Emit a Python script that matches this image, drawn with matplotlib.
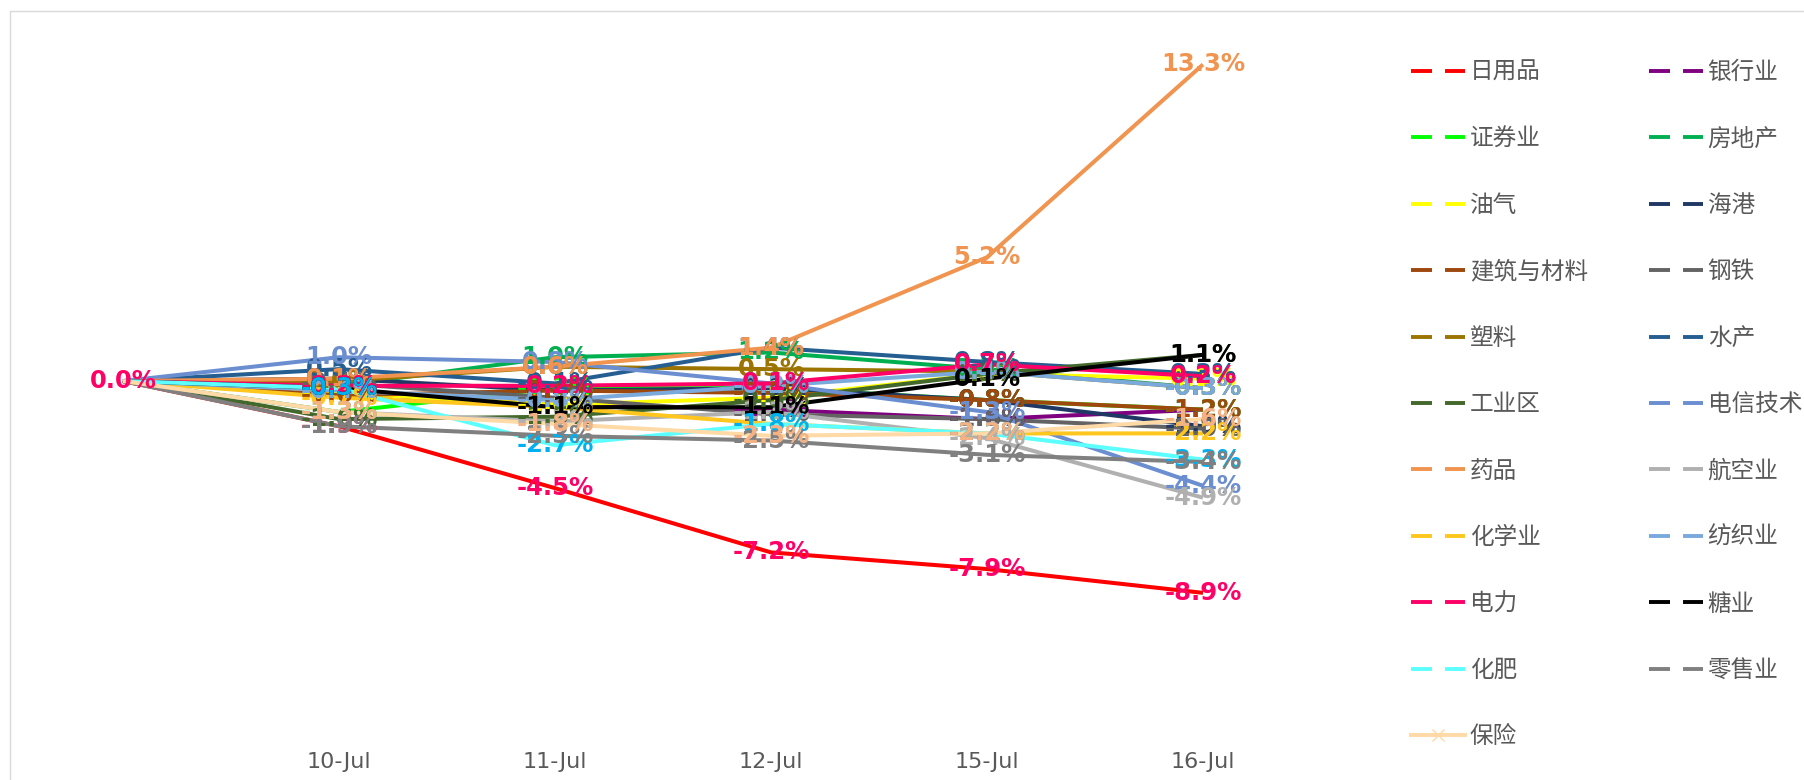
import matplotlib
matplotlib.use('Agg')
import matplotlib.pyplot as plt
from matplotlib.lines import Line2D
from matplotlib.patches import Rectangle
import numpy as np

plt.rcParams['font.family'] = ['Noto Sans CJK SC', 'DejaVu Sans']

# categories (first point is the base, no label)
dates = ['', '10-Jul', '11-Jul', '12-Jul', '15-Jul', '16-Jul']

# cumulative change, %
names = ['日用品', '银行业', '证券业', '房地产', '油气', '海港', '建筑与材料', '钢铁',
         '塑料', '水产', '工业区', '电信技术', '药品', '航空业', '化学业', '纺织业',
         '电力', '糖业', '化肥', '零售业', '保险']
riyong   = [0, -1.9, -4.5, -7.2, -7.9, -8.9]
yinhang  = [0, -0.5, -1.0, -1.2, -1.6, -1.2]
zhengquan = [0, -1.3, -0.3, -0.3, -0.8, -1.2]
fangdi   = [0, -0.2, 1.0, 1.2, 0.5, -0.3]
youqi    = [0, -0.5, -1.0, -0.7, 0.3, 0.1]
haigang  = [0, 0.1, -0.4, -0.3, -0.8, -1.9]
jianzhu  = [0, -0.6, -0.4, -0.5, -0.8, -1.2]
gangtie  = [0, -0.1, -0.7, -1.4, -1.6, -2.0]
suliao   = [0, 0.0, 0.6, 0.5, 0.4, -0.3]
shuichan = [0, 0.5, -0.1, 1.4, 0.8, 0.3]
gongye   = [0, -1.6, -1.5, -0.8, 0.3, 1.1]
dianxin  = [0, 1.0, 0.8, -0.1, -1.3, -4.4]
yaopin   = [0, 0.1, 0.6, 1.4, 5.2, 13.3]
hangkong = [0, -1.3, -1.7, -1.3, -2.4, -4.9]
huaxue   = [0, -0.7, -1.1, -1.8, -2.2, -2.2]
fangzhi  = [0, -0.4, -0.8, -0.2, 0.4, -0.3]
dianli   = [0, -0.2, -0.2, -0.1, 0.7, 0.2]
tangye   = [0, -0.3, -1.1, -1.1, 0.1, 1.1]
huafei   = [0, -0.3, -2.7, -1.8, -2.2, -3.3]
lingshou = [0, -1.9, -2.3, -2.5, -3.1, -3.4]
baoxian  = [0, -1.3, -1.8, -2.3, -2.2, -1.6]

values = [riyong, yinhang, zhengquan, fangdi, youqi, haigang, jianzhu, gangtie,
          suliao, shuichan, gongye, dianxin, yaopin, hangkong, huaxue, fangzhi,
          dianli, tangye, huafei, lingshou, baoxian]

line_colors = ['#FF0000', '#7F007F', '#00FF00', '#00B050', '#FFFF00', '#203864',
               '#9E480E', '#636363', '#9C7400', '#255E91', '#43682B', '#6A8ED0',
               '#F0944F', '#B0B0B0', '#FFC61E', '#7AAADC', '#FF0066', '#000000',
               '#5CFFFF', '#808080', '#FFD9A6']
label_colors = list(line_colors)
label_colors[0] = '#FF0066'   # 日用品 labels are pink
label_colors[18] = '#00B0F0'  # 化肥 labels are blue
label_colors[20] = '#F4B183'  # 保险 labels

fig = plt.figure(figsize=(18.04, 7.8), dpi=100)
ax = fig.add_axes([0.0083, 0.0538, 0.7184, 0.9154])

x = np.arange(len(dates))
for name, vals, lc, tc in zip(names, values, line_colors, label_colors):
    ax.plot(x, vals, color=lc, lw=2.9, solid_capstyle='butt', zorder=2)
    for j, v in enumerate(vals):
        if j == 0 and name != '电力':
            continue
        ax.text(x[j], v, f'{v:.1f}%', color=tc, fontsize=17.5, fontweight='bold',
                family='DejaVu Sans', ha='center', va='center', zorder=3)

ax.set_xlim(-0.5, len(dates) - 0.5)
ax.set_ylim(-15, 15)
ax.set_xticks(x)
ax.set_xticklabels(dates, color='#595959', fontsize=16,
                   family=['Liberation Sans Narrow', 'DejaVu Sans'])
ax.tick_params(axis='x', length=0, pad=10)
ax.set_yticks([])
for s in ax.spines.values():
    s.set_visible(False)

# legend: Excel fills rows first, matplotlib fills columns
handles = []
for name, lc in zip(names, line_colors):
    if name == '保险':
        h = Line2D([], [], color=lc, lw=2.8, marker='x', markersize=9,
                   markeredgewidth=1.0, markevery=[1])
    else:
        h = Line2D([], [], color=lc, lw=2.8, linestyle=(0, (5.4, 3.35)))
    handles.append(h)
order = list(range(0, len(names), 2)) + list(range(1, len(names), 2))
leg = fig.legend([handles[i] for i in order], [names[i] for i in order],
                 loc='upper left', bbox_to_anchor=(1411 / 1804, 1 - 61 / 780),
                 ncol=2, frameon=False, fontsize=17, borderpad=0,
                 handlelength=2.29, handletextpad=0.2, columnspacing=2.58,
                 labelspacing=1.84, borderaxespad=0)
for t in leg.get_texts():
    t.set_color('#595959')

# light chart border
fig.add_artist(Rectangle((10 / 1804, -0.1), 1.2, 1 - 11 / 780 + 0.1,
                         transform=fig.transFigure, fill=False,
                         edgecolor='#D9D9D9', lw=1))

fig.savefig('out.png', dpi=100)
